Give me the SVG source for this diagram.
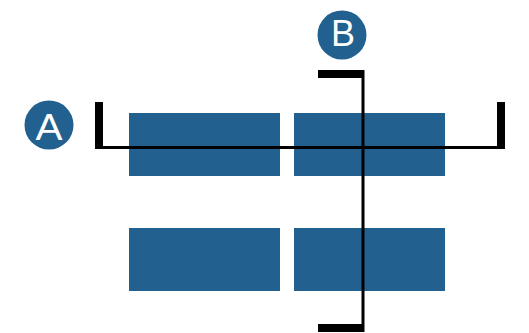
<svg xmlns="http://www.w3.org/2000/svg" width="529" height="333" viewBox="0 0 529 333">
<style>
.blk{fill:#22618f}
.lbl{fill:#22618f}
.lt{fill:#fff;font-family:"Liberation Sans",sans-serif;font-size:36px;text-anchor:middle}
.k{fill:#000}
</style>
<rect width="529" height="333" fill="#fff"/>
<g id="blocks">
<rect id="b1" class="blk" x="129" y="113" width="151" height="63"/>
<rect id="b2" class="blk" x="294" y="113" width="151" height="63"/>
<rect id="b3" class="blk" x="129" y="228" width="151" height="63"/>
<rect id="b4" class="blk" x="294" y="228" width="151" height="63"/>
</g>
<g id="connectors">
<g id="sectionA">
<rect class="k" x="95" y="102" width="8" height="47"/>
<rect class="k" x="497" y="102" width="8" height="47"/>
<rect class="k" x="95" y="146" width="410" height="3"/>
</g>
<g id="sectionB">
<rect class="k" x="318" y="70" width="46" height="8"/>
<rect class="k" x="318" y="324" width="46" height="8"/>
<rect class="k" x="361.5" y="70" width="3" height="262"/>
</g>
</g>
<g id="labelA">
<circle class="lbl" cx="49" cy="125" r="24.5"/>
<text class="lt" x="49" y="139.5" textLength="27" lengthAdjust="spacingAndGlyphs">A</text>
</g>
<g id="labelB">
<circle class="lbl" cx="342" cy="35" r="24.5"/>
<text class="lt" x="343" y="46">B</text>
</g>
</svg>
